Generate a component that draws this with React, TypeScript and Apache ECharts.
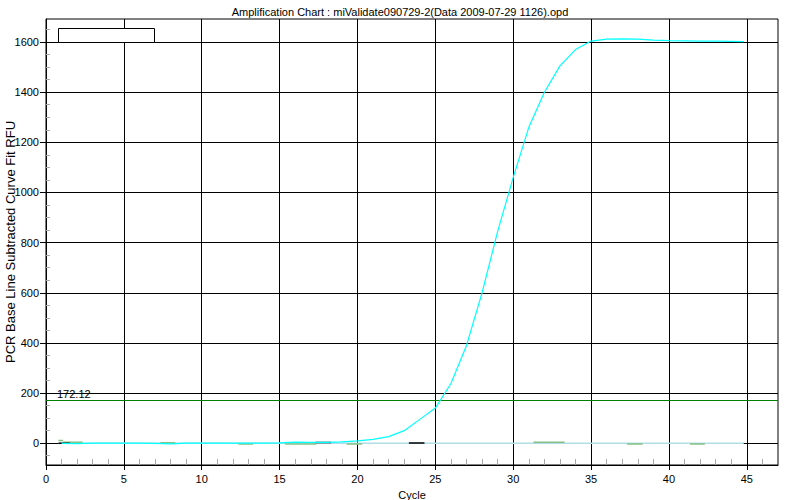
import React, { useEffect, useRef } from "react";
import * as echarts from "echarts";

const TITLE = "Amplification Chart : miValidate090729-2(Data 2009-07-29 1126).opd";
const X_NAME = "Cycle";
const Y_NAME = "PCR Base Line Subtracted Curve Fit RFU";

const cycles = [
  1, 2, 3, 4, 5, 6, 7, 8, 9, 10, 11, 12, 13, 14, 15, 16, 17, 18, 19, 20, 21, 22,
  23, 24, 25, 26, 27, 28, 29, 30, 31, 32, 33, 34, 35, 36, 37, 38, 39, 40, 41, 42,
  43, 44, 44.8,
];
const rfu = [
  -1, -2, 0, 0, 0, 0, -1, -3, 0, 0, 0, 0, 0, 0, 1, 4, 3, 3, 5, 9, 15, 26, 50, 95,
  140, 238, 390, 600, 845, 1060, 1260, 1400, 1505, 1570, 1604, 1612, 1613, 1612,
  1608, 1606, 1605, 1604, 1604, 1603, 1602,
];

const xTicks = [0, 5, 10, 15, 20, 25, 30, 35, 40, 45];
const yTicks = [0, 200, 400, 600, 800, 1000, 1200, 1400, 1600];
const threshold = 172.12;
const baselineX = [0.8, 44.8];
const baselineValue = 0;

const greenStart = [0.8, 1.1, 7.35, 12.35, 15.35, 19.3, 31.3, 37.3, 41.35];
const greenEnd = [1.1, 2.35, 8.3, 13.3, 17.35, 20.3, 33.3, 38.3, 42.3];
const greenValue = [11, 4, 2, -3, -3, -3, 4, -3, -3];

const blackStart = [0.8, 17.3, 23.3];
const blackEnd = [1.55, 18.3, 24.3];
const blackValue = [0, 3, 1];

const X_MIN = 0;
const X_MAX = 47;
const Y_MIN = -87;
const Y_MAX = 1692;

const FONT = "Liberation Sans, Arial, sans-serif";

export default function App() {
  const ref = useRef<HTMLDivElement>(null);

  useEffect(() => {
    if (!ref.current) return;
    const chart = echarts.init(ref.current, undefined, { renderer: "svg" });

    const segSeries = (
      starts: number[],
      ends: number[],
      vals: number[],
      color: string,
      prefix: string
    ) =>
      starts.map((s, i) => ({
        name: `${prefix}${i}`,
        type: "line",
        xAxisIndex: 0,
        yAxisIndex: 0,
        data: [
          [s, vals[i]],
          [ends[i], vals[i]],
        ],
        symbol: "none",
        lineStyle: { color, width: 1.5 },
        silent: true,
        z: 4,
      }));

    const option: any = {
      animation: false,
      backgroundColor: "#ffffff",
      textStyle: { fontFamily: FONT },
      title: {
        text: TITLE,
        left: "center",
        top: 1,
        textStyle: { fontSize: 11, fontWeight: "normal", color: "#000", fontFamily: FONT },
      },
      grid: {
        left: 46,
        right: 22,
        top: 19,
        bottom: 35,
        show: true,
        borderColor: "#000",
        borderWidth: 1,
        backgroundColor: "#fff",
        outerBoundsMode: "none",
        containLabel: false,
      },
      xAxis: [
        {
          type: "value",
          min: X_MIN,
          max: X_MAX,
          interval: 5,
          position: "bottom",
          name: X_NAME,
          nameLocation: "middle",
          nameGap: 24,
          nameMoveOverlap: false,
          nameTextStyle: { fontSize: 11, color: "#000", fontFamily: FONT },
          axisLine: { show: true, onZero: false, lineStyle: { color: "#000", width: 1 } },
          axisTick: { show: true, length: 5, lineStyle: { color: "#000" }, customValues: xTicks },
          axisLabel: {
            fontSize: 11,
            color: "#000",
            margin: 8,
            fontFamily: FONT,
            customValues: xTicks,
            formatter: (v: number) => String(v),
          },
          splitLine: { show: true, lineStyle: { color: "#000", width: 1 } },
          minorTick: { show: false },
        },
        {
          type: "value",
          min: X_MIN,
          max: X_MAX,
          interval: 5,
          position: "bottom",
          axisLine: { show: false, onZero: false },
          axisTick: { show: false, inside: true },
          axisLabel: { show: false },
          splitLine: { show: false },
          minorTick: { show: true, splitNumber: 5, length: 6, lineStyle: { color: "#a8a8a8", width: 1 } },
        },
      ],
      yAxis: [
        {
          type: "value",
          min: Y_MIN,
          max: Y_MAX,
          splitNumber: 9,
          position: "left",
          name: Y_NAME,
          nameLocation: "middle",
          nameGap: 29,
          nameRotate: 90,
          nameMoveOverlap: false,
          nameTextStyle: { fontSize: 13, color: "#000", fontFamily: FONT },
          axisLine: { show: true, onZero: false, lineStyle: { color: "#000", width: 1 } },
          axisTick: { show: true, length: 6, lineStyle: { color: "#000" }, customValues: yTicks },
          axisLabel: {
            fontSize: 11,
            color: "#000",
            margin: 7,
            fontFamily: FONT,
            customValues: yTicks,
            formatter: (v: number) => String(v),
          },
          splitLine: { show: true, lineStyle: { color: "#000", width: 1 } },
          minorTick: { show: false },
        },
        {
          type: "value",
          min: Y_MIN,
          max: Y_MAX,
          splitNumber: 9,
          position: "left",
          axisLine: { show: false, onZero: false },
          axisTick: { show: false, inside: true },
          axisLabel: { show: false },
          splitLine: { show: false },
          minorTick: { show: true, splitNumber: 4, length: 4, lineStyle: { color: "#a8a8a8", width: 1 } },
        },
      ],
      graphic: [
        {
          type: "rect",
          shape: { x: 58.5, y: 28.5, width: 96, height: 14 },
          style: { fill: "#fff", stroke: "#000", lineWidth: 1 },
          z: 100,
        },
      ],
      series: [
        {
          name: "baseline",
          type: "line",
          data: baselineX.map((x) => [x, baselineValue]),
          symbol: "none",
          lineStyle: { color: "#b0dde6", width: 1.5 },
          silent: true,
          z: 3,
        },
        {
          name: "Amplification",
          type: "line",
          data: cycles.map((c, i) => [c, rfu[i]]),
          symbol: "none",
          lineStyle: { color: "#00ffff", width: 1.2 },
          silent: true,
          z: 5,
          markLine: {
            silent: true,
            symbol: ["none", "none"],
            animation: false,
            lineStyle: { color: "#008000", width: 1.2, type: "solid" },
            label: {
              show: true,
              position: "insideStartTop",
              formatter: "172.12",
              color: "#000",
              fontSize: 11,
              fontFamily: FONT,
              distance: [11, 1],
            },
            data: [{ yAxis: threshold }],
          },
        },
        ...segSeries(greenStart, greenEnd, greenValue, "#86c086", "g"),
        ...segSeries(blackStart, blackEnd, blackValue, "#000000", "k"),
      ],
    };

    chart.setOption(option);
    return () => chart.dispose();
  }, []);

  return (
    <div
      ref={ref}
      style={{ position: "absolute", left: 0, top: 0, width: 800, height: 500, background: "#fff" }}
    />
  );
}
